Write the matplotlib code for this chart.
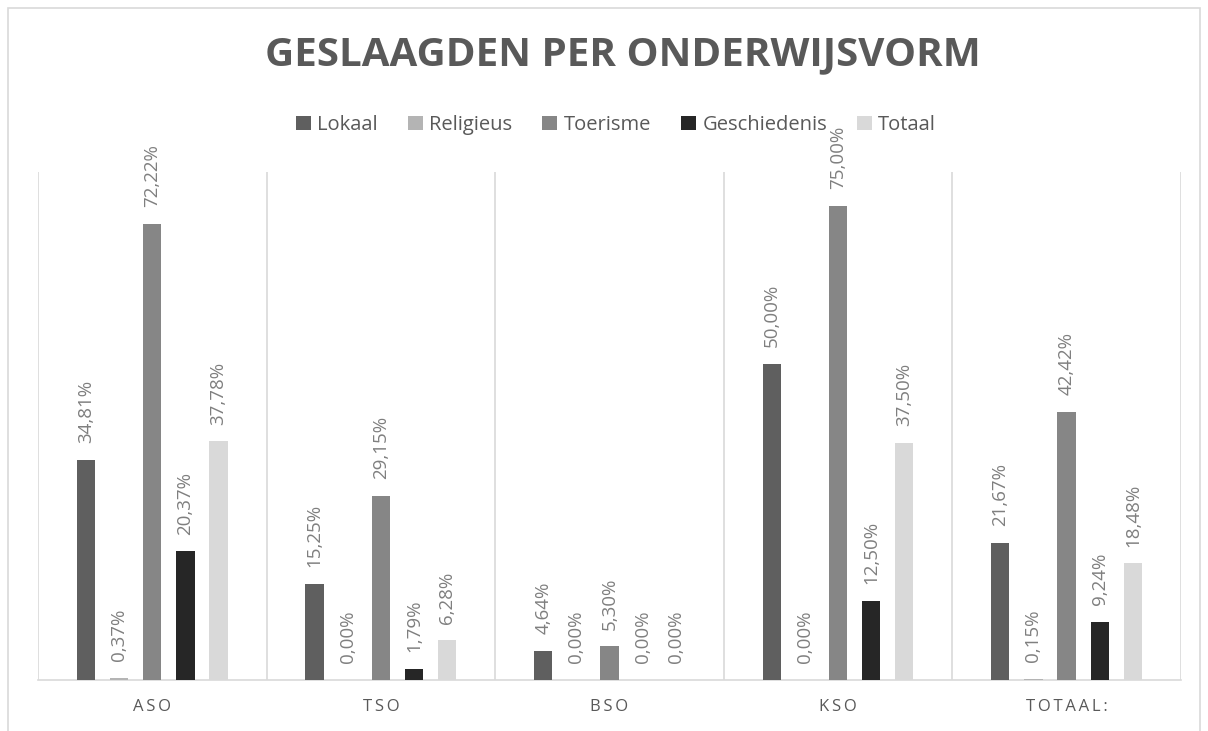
import matplotlib.pyplot as plt
import numpy as np

# Gegevens
categorieen = ['ASO', 'TSO', 'BSO', 'KSO', 'TOTAAL:']
reeksen = ['Lokaal', 'Religieus', 'Toerisme', 'Geschiedenis', 'Totaal']
lokaal = [34.81, 15.25, 4.64, 50.00, 21.67]
religieus = [0.37, 0.00, 0.00, 0.00, 0.15]
toerisme = [72.22, 29.15, 5.30, 75.00, 42.42]
geschiedenis = [20.37, 1.79, 0.00, 12.50, 9.24]
totaal = [37.78, 6.28, 0.00, 37.50, 18.48]
waarden = [lokaal, religieus, toerisme, geschiedenis, totaal]
kleuren = ['#5f5f5f', '#b4b4b4', '#868686', '#262626', '#d9d9d9']

plt.rcParams['font.family'] = ['Open Sans', 'DejaVu Sans']

fig = plt.figure(figsize=(12.08, 7.31), dpi=100)
ax = fig.add_axes([0.0315, 0.0698, 0.946, 0.695])

x = np.arange(len(categorieen))
stap = 0.145
breedte = 0.08
for i, (naam, vals, kl) in enumerate(zip(reeksen, waarden, kleuren)):
    pos = x + (i - 2) * stap
    ax.bar(pos, vals, width=breedte, color=kl, label=naam, zorder=3)
    for p, v in zip(pos, vals):
        ax.annotate(f'{v:.2f}%'.replace('.', ','), (p, v), xytext=(0, 12),
                    textcoords='offset points', rotation=90, ha='center',
                    va='bottom', fontsize=13.5, color='#7f7f7f')

ax.set_xlim(-0.5, len(categorieen) - 0.5)
ax.set_ylim(0, 80.4)
ax.set_yticks([])
for b in np.arange(len(categorieen) + 1) - 0.5:
    ax.axvline(b, color='#d9d9d9', lw=1.2, zorder=1)
for s in ['top', 'left', 'right']:
    ax.spines[s].set_visible(False)
ax.spines['bottom'].set_color('#d9d9d9')
ax.spines['bottom'].set_linewidth(1.2)
ax.set_xticks(x)
ax.set_xticklabels(['\u2009'.join(c) for c in categorieen], fontsize=12,
                   color='#595959')
ax.tick_params(axis='x', length=0, pad=14)

fig.text(0.516, 0.925, 'GESLAAGDEN PER ONDERWIJSVORM', ha='center', va='center',
         fontsize=29, fontweight='bold', color='#595959')
fig.legend(loc='center', bbox_to_anchor=(0.51, 0.829), ncol=5, frameon=False,
           fontsize=14.5, handlelength=0.75, handleheight=0.75,
           handletextpad=0.3, columnspacing=1.5, labelcolor='#595959')

# rand van de grafiek
rand = plt.Rectangle((0.0066, -0.02), 0.987, 1.009, transform=fig.transFigure,
                     fill=False, edgecolor='#d9d9d9', lw=1.2)
fig.patches.append(rand)

plt.savefig('out.png', dpi=100)
